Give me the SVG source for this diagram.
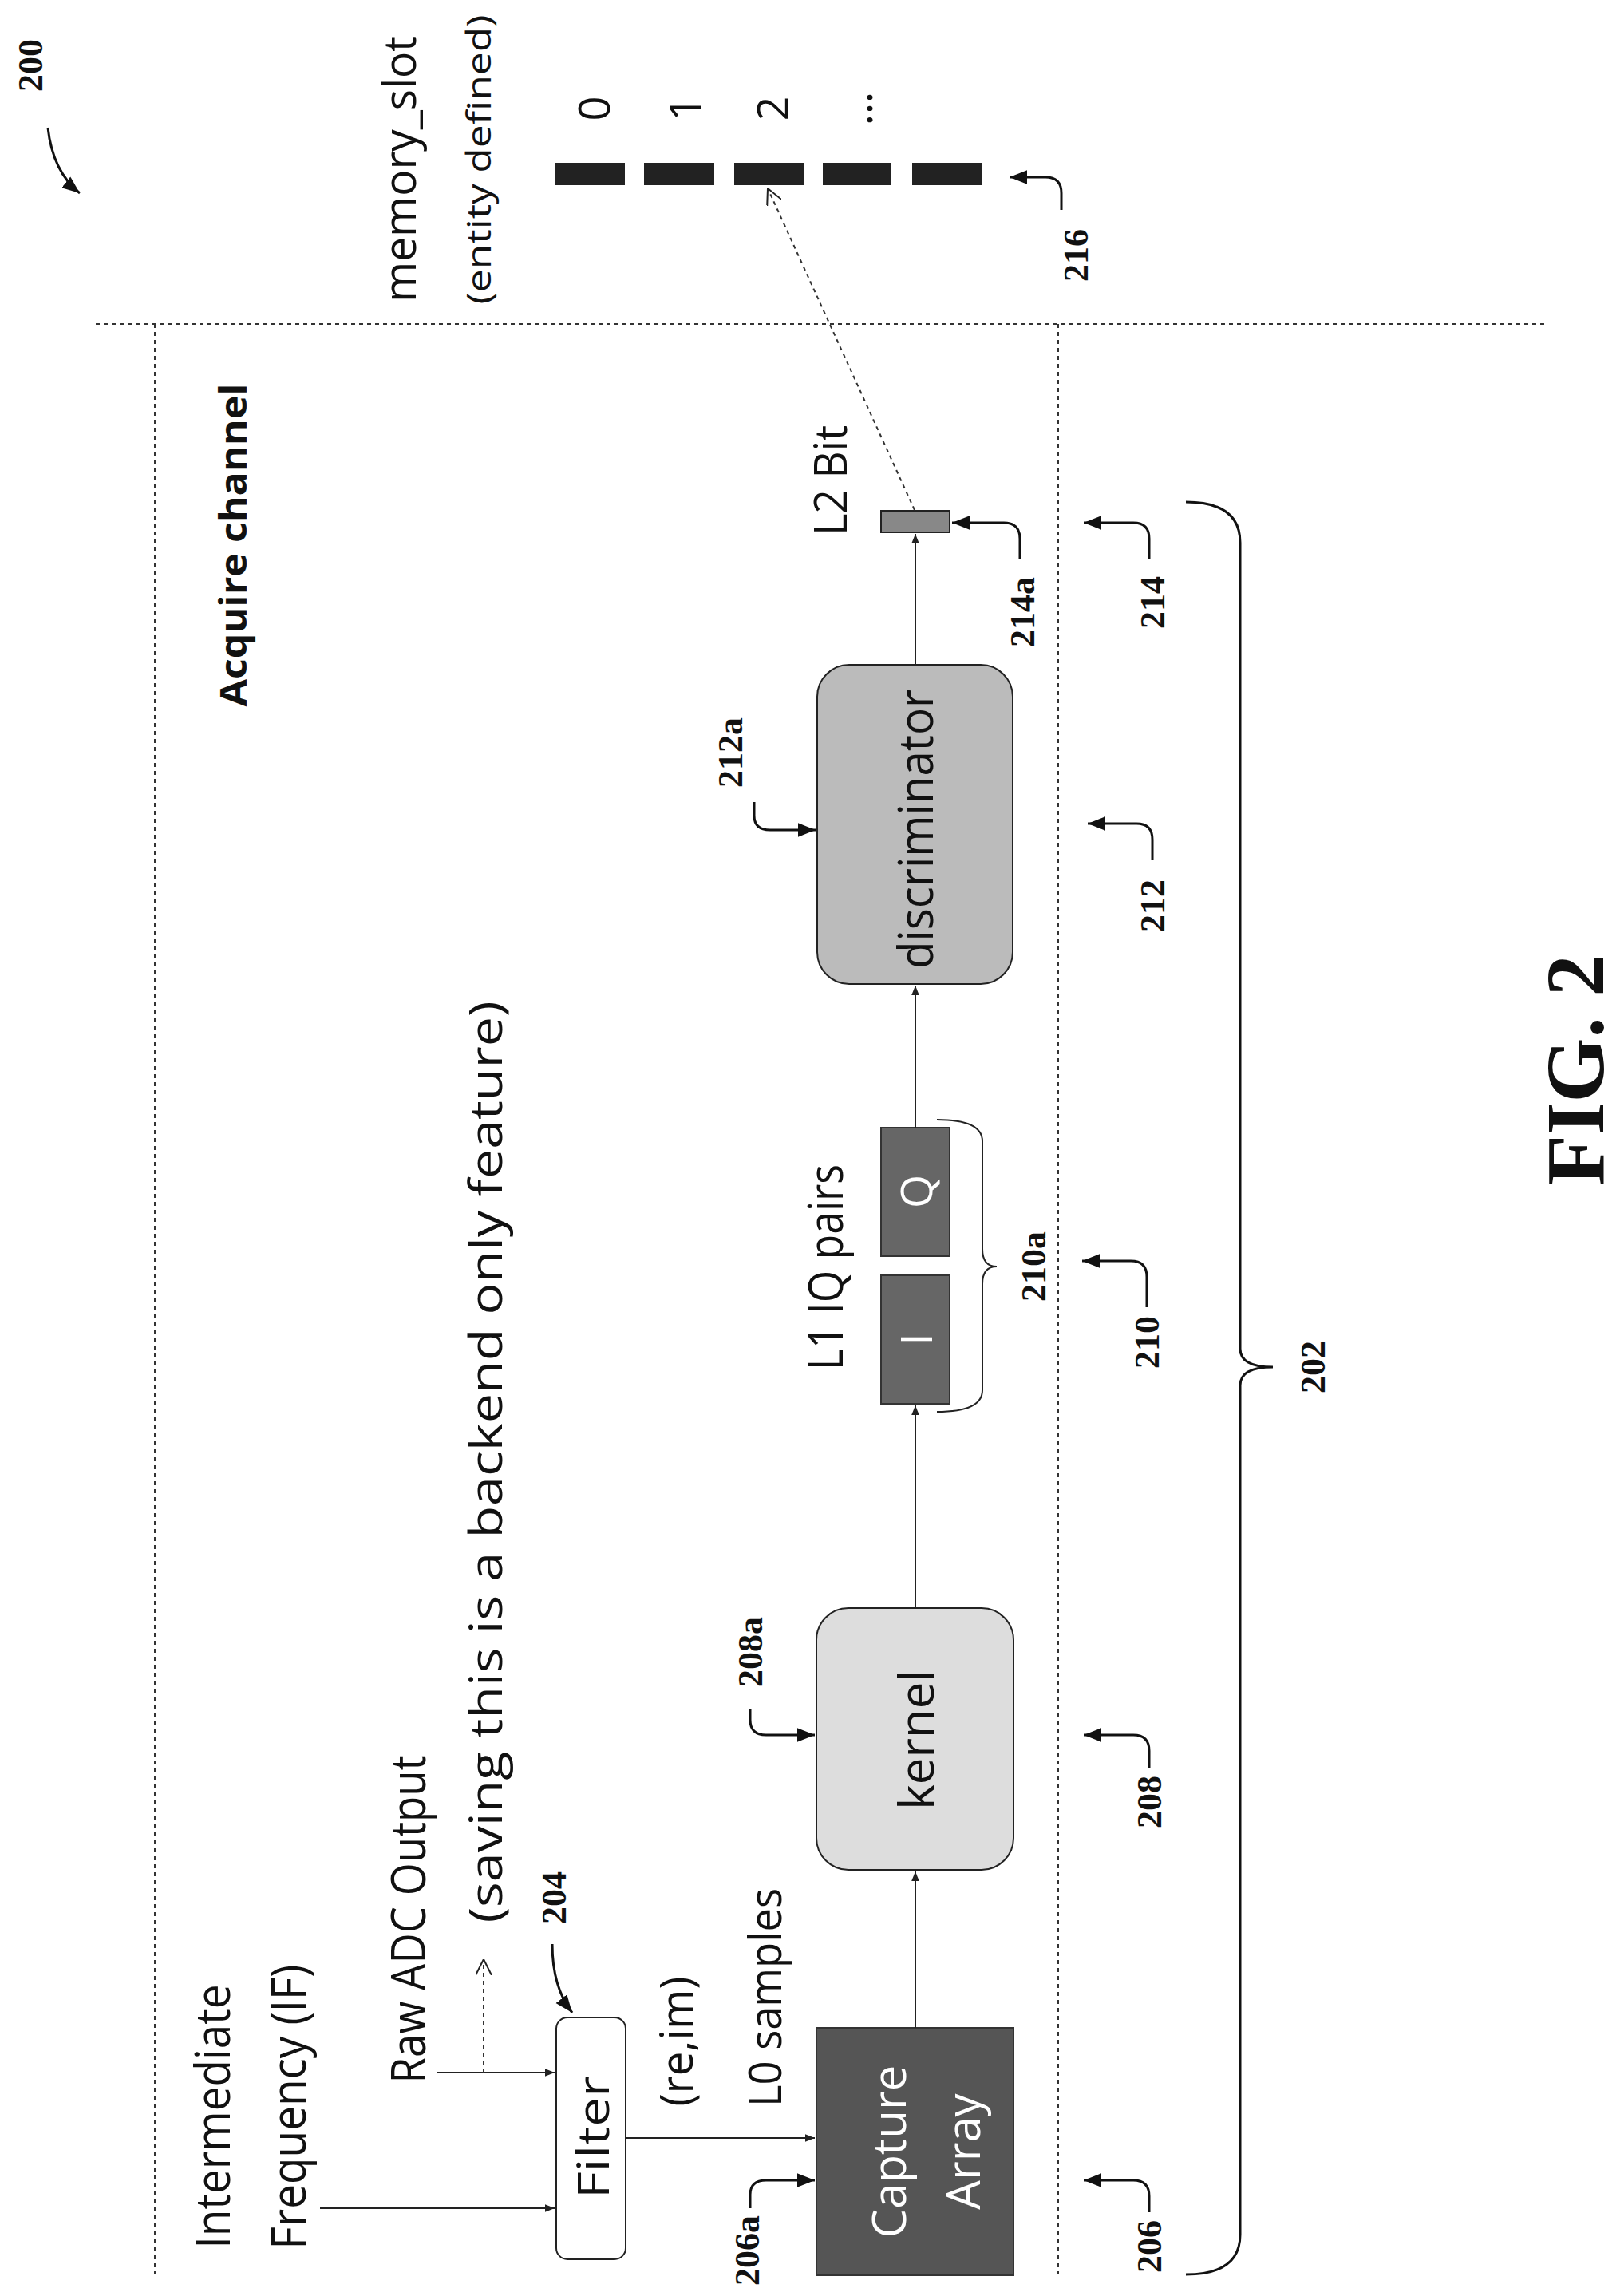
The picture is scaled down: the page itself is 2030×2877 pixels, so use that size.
<svg xmlns="http://www.w3.org/2000/svg" width="2030" height="2877" viewBox="0 0 2030 2877">
<style>
.t{font-family:"Open Sans","Liberation Sans",sans-serif;fill:#111;dominant-baseline:central;text-anchor:middle}
.w{fill:#fff}
.n{font-family:"Liberation Serif",serif;font-weight:bold;font-size:44px;fill:#111;dominant-baseline:central;text-anchor:middle}
.ln{fill:none;stroke:#222;stroke-width:2}
.co{fill:none;stroke:#111;stroke-width:3}
.dot{fill:none;stroke:#333;stroke-width:2;stroke-dasharray:5 5}
</style>
<defs>
<marker id="a" viewBox="0 0 10 10" refX="10" refY="5" markerWidth="12" markerHeight="12" markerUnits="userSpaceOnUse" orient="auto"><path d="M0,1 L10,5 L0,9 z" fill="#222"/></marker>
<marker id="b" viewBox="0 0 10 10" refX="10" refY="5" markerWidth="22" markerHeight="22" markerUnits="userSpaceOnUse" orient="auto"><path d="M0,1 L10,5 L0,9 z" fill="#111"/></marker>
<marker id="o" viewBox="0 0 10 10" refX="10" refY="5" markerWidth="20" markerHeight="20" markerUnits="userSpaceOnUse" orient="auto"><path d="M0,0 L10,5 L0,10" fill="none" stroke="#222" stroke-width="1"/></marker>
</defs>

<g id="boundaries">
<line class="dot" x1="120" y1="406" x2="1935" y2="406"/>
<line class="dot" x1="194" y1="406" x2="194" y2="2850"/>
<line class="dot" x1="1326" y1="406" x2="1326" y2="2850"/>
</g>

<g id="fig200">
<text class="n" transform="translate(38,82) rotate(-90)">200</text>
<path class="co" d="M60,160 Q66,215 100,242" marker-end="url(#b)"/>
</g>

<g id="title"><text class="t" transform="translate(291,683) rotate(-90)" font-size="46" font-weight="bold" textLength="405" lengthAdjust="spacingAndGlyphs">Acquire channel</text></g>

<g id="inputs">
<text class="t" transform="translate(265,2652) rotate(-90)" font-size="60" textLength="331" lengthAdjust="spacingAndGlyphs">Intermediate</text>
<text class="t" transform="translate(360,2640) rotate(-90)" font-size="60" textLength="357" lengthAdjust="spacingAndGlyphs">Frequency (IF)</text>
<text class="t" transform="translate(510,2405) rotate(-90)" font-size="60" textLength="411" lengthAdjust="spacingAndGlyphs">Raw ADC Output</text>
<text class="t" transform="translate(607,1832) rotate(-90)" font-size="56" textLength="1155" lengthAdjust="spacingAndGlyphs">(saving this is a backend only feature)</text>
<text class="t" transform="translate(846,2558) rotate(-90)" font-size="56" textLength="163" lengthAdjust="spacingAndGlyphs">(re,im)</text>
<text class="t" transform="translate(957,2503) rotate(-90)" font-size="56" textLength="274" lengthAdjust="spacingAndGlyphs">L0 samples</text>
</g>

<g id="filter">
<rect x="697" y="2528" width="87" height="303" rx="14" fill="#fff" stroke="#222" stroke-width="2"/>
<text class="t" transform="translate(742,2678) rotate(-90)" font-size="54" textLength="154" lengthAdjust="spacingAndGlyphs">Filter</text>
<text class="n" transform="translate(694,2378) rotate(-90)">204</text>
<path class="co" d="M692,2436 Q692,2490 717,2522" marker-end="url(#b)"/>
</g>

<g id="capture">
<rect x="1023" y="2541" width="247" height="310" fill="#555" stroke="#333" stroke-width="2"/>
<text class="t w" transform="translate(1112,2696) rotate(-90)" font-size="58">Capture</text>
<text class="t w" transform="translate(1205,2696) rotate(-90)" font-size="58">Array</text>
<text class="n" transform="translate(936,2820) rotate(-90)">206a</text>
<path class="co" d="M940,2767 L940,2750 Q940,2732 960,2732 L1021,2732" marker-end="url(#b)"/>
</g>

<g id="kernel">
<rect x="1023" y="2015" width="247" height="328" rx="40" fill="#ddd" stroke="#222" stroke-width="2"/>
<text class="t" transform="translate(1147,2180) rotate(-90)" font-size="60">kernel</text>
<text class="n" transform="translate(940,2070) rotate(-90)">208a</text>
<path class="co" d="M940,2142 L940,2155 Q940,2174 960,2174 L1021,2174" marker-end="url(#b)"/>
</g>

<g id="iq">
<rect x="1104" y="1413" width="86" height="161" fill="#666" stroke="#333" stroke-width="2"/>
<rect x="1104" y="1598" width="86" height="161" fill="#666" stroke="#333" stroke-width="2"/>
<text class="t w" transform="translate(1147,1493) rotate(-90)" font-size="54">Q</text>
<text class="t w" transform="translate(1147,1678) rotate(-90)" font-size="54">I</text>
<text class="t" transform="translate(1033,1588) rotate(-90)" font-size="60" textLength="258" lengthAdjust="spacingAndGlyphs">L1 IQ pairs</text>
<path class="ln" stroke-width="3" d="M1174,1403 Q1231,1403 1231,1430 L1231,1565 Q1231,1587 1249,1587 Q1231,1587 1231,1609 L1231,1742 Q1231,1769 1174,1769"/>
<text class="n" transform="translate(1295,1587) rotate(-90)">210a</text>
</g>

<g id="discriminator">
<rect x="1024" y="833" width="245" height="400" rx="40" fill="#bbb" stroke="#222" stroke-width="2"/>
<text class="t" transform="translate(1146,1039) rotate(-90)" font-size="60" textLength="350" lengthAdjust="spacingAndGlyphs">discriminator</text>
<text class="n" transform="translate(915,943) rotate(-90)">212a</text>
<path class="co" d="M945,1005 L945,1022 Q945,1040 965,1040 L1022,1040" marker-end="url(#b)"/>
</g>

<g id="l2bit">
<rect x="1104" y="640" width="86" height="27" fill="#888" stroke="#222" stroke-width="2"/>
<text class="t" transform="translate(1039,602) rotate(-90)" font-size="56" textLength="138" lengthAdjust="spacingAndGlyphs">L2 Bit</text>
<text class="n" transform="translate(1281,767) rotate(-90)">214a</text>
<path class="co" d="M1278,700 L1278,675 Q1278,655 1258,655 L1193,655" marker-end="url(#b)"/>
</g>

<g id="memory">
<text class="t" transform="translate(499,212) rotate(-90)" font-size="56" textLength="334" lengthAdjust="spacingAndGlyphs">memory_slot</text>
<text class="t" transform="translate(598,200) rotate(-90)" font-size="42" textLength="363" lengthAdjust="spacingAndGlyphs">(entity defined)</text>
<rect x="696" y="204" width="87" height="28" fill="#222"/>
<rect x="807" y="204" width="88" height="28" fill="#222"/>
<rect x="920" y="204" width="87" height="28" fill="#222"/>
<rect x="1031" y="204" width="86" height="28" fill="#222"/>
<rect x="1143" y="204" width="87" height="28" fill="#222"/>
<text class="t" transform="translate(743,136) rotate(-90)" font-size="54">0</text>
<text class="t" transform="translate(857,136) rotate(-90)" font-size="54">1</text>
<text class="t" transform="translate(967,136) rotate(-90)" font-size="54">2</text>
<text class="t" transform="translate(1072,136) rotate(-90)" font-size="54">...</text>
<text class="n" transform="translate(1348,320) rotate(-90)">216</text>
<path class="co" d="M1330,263 L1330,242 Q1330,222 1310,222 L1265,222" marker-end="url(#b)"/>
</g>

<g id="refs">
<text class="n" transform="translate(1444,755) rotate(-90)">214</text>
<path class="co" d="M1440,700 L1440,675 Q1440,655 1420,655 L1358,655" marker-end="url(#b)"/>
<text class="n" transform="translate(1444,1135) rotate(-90)">212</text>
<path class="co" d="M1444,1077 L1444,1052 Q1444,1032 1424,1032 L1363,1032" marker-end="url(#b)"/>
<text class="n" transform="translate(1437,1682) rotate(-90)">210</text>
<path class="co" d="M1437,1638 L1437,1600 Q1437,1580 1417,1580 L1356,1580" marker-end="url(#b)"/>
<text class="n" transform="translate(1440,2258) rotate(-90)">208</text>
<path class="co" d="M1440,2215 L1440,2194 Q1440,2174 1420,2174 L1358,2174" marker-end="url(#b)"/>
<text class="n" transform="translate(1440,2815) rotate(-90)">206</text>
<path class="co" d="M1440,2772 L1440,2752 Q1440,2732 1420,2732 L1358,2732" marker-end="url(#b)"/>
<path class="co" d="M1486,629 Q1554,629 1554,680 L1554,1690 Q1554,1713 1595,1713 Q1554,1713 1554,1736 L1554,2800 Q1554,2850 1486,2850"/>
<text class="n" transform="translate(1645,1713) rotate(-90)">202</text>
<text transform="translate(1973,1341) rotate(-90)" font-family="Liberation Serif,serif" font-weight="bold" font-size="104" text-anchor="middle" dominant-baseline="central" fill="#111">FIG. 2</text>
</g>

<g id="connectors">
<line class="ln" x1="401" y1="2767" x2="695" y2="2767" marker-end="url(#a)"/>
<line class="ln" x1="548" y1="2597" x2="695" y2="2597" marker-end="url(#a)"/>
<line class="dot" stroke-width="2" x1="606" y1="2597" x2="606" y2="2455" marker-end="url(#o)"/>
<line class="ln" x1="784" y1="2679" x2="1021" y2="2679" marker-end="url(#a)"/>
<line class="ln" x1="1147" y1="2541" x2="1147" y2="2345" marker-end="url(#a)"/>
<line class="ln" x1="1147" y1="2015" x2="1147" y2="1761" marker-end="url(#a)"/>
<line class="ln" x1="1147" y1="1413" x2="1147" y2="1235" marker-end="url(#a)"/>
<line class="ln" x1="1147" y1="833" x2="1147" y2="669" marker-end="url(#a)"/>
<line class="dot" x1="1146" y1="639" x2="962" y2="236" marker-end="url(#o)"/>
</g>
</svg>
